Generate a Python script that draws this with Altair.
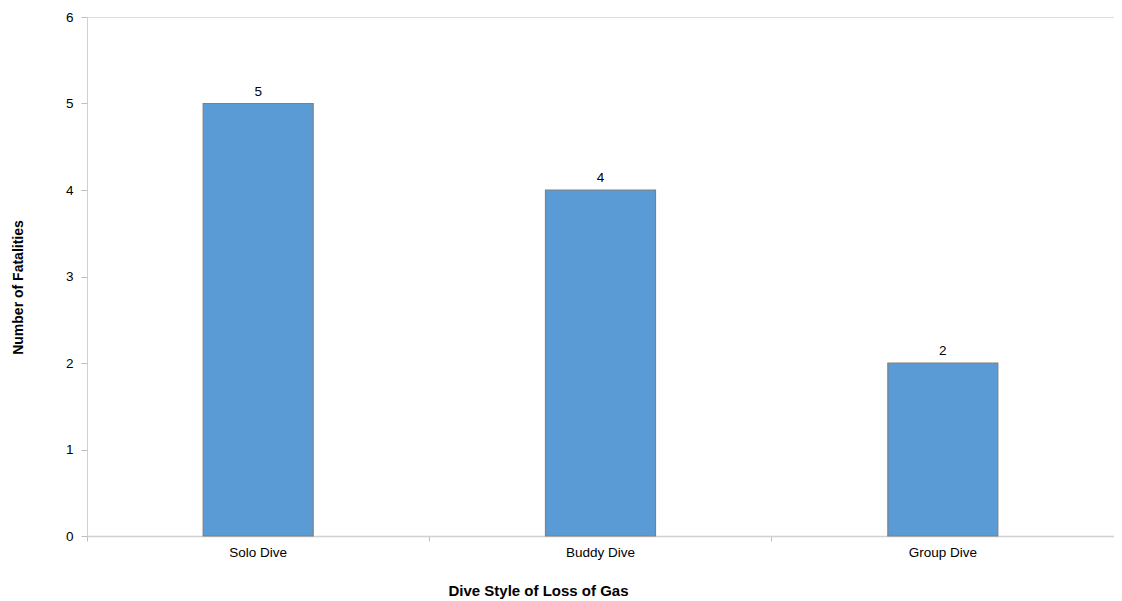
import altair as alt
import pandas as pd

categories = ["Solo Dive", "Buddy Dive", "Group Dive"]
fatalities = [5, 4, 2]

df = pd.DataFrame({"style": categories, "n": fatalities})

FONT = "Liberation Sans"

x = alt.X("style:N", sort=categories,
          scale=alt.Scale(paddingInner=0, paddingOuter=0),
          axis=alt.Axis(title="Dive Style of Loss of Gas", labelAngle=0,
                        bandPosition=0, ticks=True, tickSize=5, tickColor="#bfbfbf",
                        domainColor="#d0d0d0", domainWidth=1.5,
                        labelFont=FONT, labelFontSize=13.5, labelColor="#000000", labelPadding=4,
                        titleFont=FONT, titleFontSize=15, titleFontWeight="bold", titleColor="#000000",
                        titleX=451, titleY=54, titleBaseline="middle", titleAlign="center"))
y = alt.Y("n:Q", scale=alt.Scale(domain=[0, 6], nice=False),
          axis=alt.Axis(title="Number of Fatalities", values=[0, 1, 2, 3, 4, 5, 6], format="d",
                        grid=False, tickSize=6, tickColor="#bfbfbf", domainColor="#d0d0d0",
                        labelFont=FONT, labelFontSize=13.5, labelColor="#000000", labelPadding=8,
                        titleFont=FONT, titleFontSize=14, titleFontWeight="bold",
                        titleColor="#000000", titleX=-69, titleY=270, titleBaseline="middle",
                        titleAlign="center", titleAngle=270))

bars = alt.Chart(df).mark_bar(size=110, color="#5B9BD5", stroke="#808080", strokeWidth=1.2).encode(x=x, y=y)
labels = alt.Chart(df).mark_text(baseline="bottom", dy=-5, font=FONT, fontSize=13.5, color="#000000").encode(
    x=alt.X("style:N", sort=categories), y="n:Q", text="n:Q")

chart = (bars + labels).properties(
    width=1027, height=519,
    autosize=alt.AutoSizeParams(type="none"),
    padding={"left": 79, "top": 9, "right": 0, "bottom": 64},
).configure_view(stroke=None).configure(background="white")

chart.save("out.html", embed_options={"renderer": "svg", "actions": False})
